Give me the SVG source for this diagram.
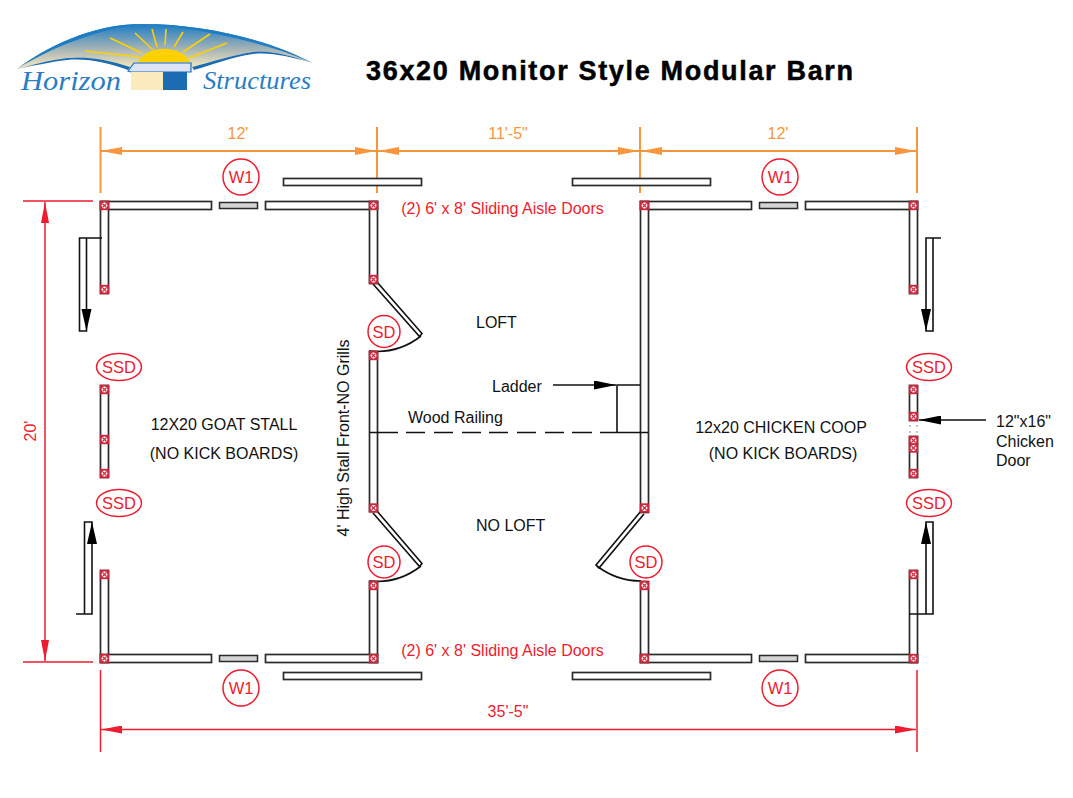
<svg xmlns="http://www.w3.org/2000/svg" width="1073" height="798" viewBox="0 0 1073 798">
<style>
text{font-family:"Liberation Sans",Arial,sans-serif}
.w{fill:#fff;stroke:#2a2a2a;stroke-width:1.7}
.win{fill:#d4d4d4;stroke:#2a2a2a;stroke-width:1.5}
.p{fill:#c8283c}
.l{fill:none;stroke:#111;stroke-width:1.6}
.or{stroke:#f7963c;stroke-width:2;fill:none}
.rd{stroke:#ee1c2e;stroke-width:1.5;fill:none}
.tag{fill:#fff;stroke:#ee1c2e;stroke-width:1.5}
.tt{fill:#ee1c2e;font-size:16.5px;text-anchor:middle}
.k{fill:#111;font-size:16px}
.k2{fill:#111;font-size:16px;text-anchor:middle}
.rt{fill:#ee1c2e;font-size:16px;text-anchor:middle}
.ot{fill:#f7963c;font-size:16px;text-anchor:middle}
.ray{stroke:#fdd000;stroke-width:1.6}
.script{font-family:"Liberation Serif",serif;font-style:italic;fill:#2a7cc4}
</style>
<defs>
<g id="post"><rect class="p" x="-4.700" y="-4.700" width="9.400" height="9.400"/><circle cx="0" cy="0" r="2.900" fill="#fff"/><path d="M-2-2L2 2M-2 2L2-2" stroke="#c8283c" stroke-width="1.100"/></g>
<linearGradient id="sky" x1="0" y1="0" x2="0" y2="1"><stop offset="0" stop-color="#1c7cc4"/><stop offset="0.55" stop-color="#a3b3b6"/><stop offset="1" stop-color="#fbeaba"/></linearGradient>
<marker id="oa" markerWidth="21" markerHeight="8" refX="21" refY="4" orient="auto-start-reverse" markerUnits="userSpaceOnUse"><path d="M0 0L21 4L0 8Z" fill="#f7963c"/></marker>
<marker id="ra" markerWidth="21" markerHeight="8" refX="21" refY="4" orient="auto-start-reverse" markerUnits="userSpaceOnUse"><path d="M0 0L21 4L0 8Z" fill="#ee1c2e"/></marker>
<marker id="ka" markerWidth="22" markerHeight="9" refX="22" refY="4.500" orient="auto" markerUnits="userSpaceOnUse"><path d="M0 0L22 4.500L0 9Z" fill="#000"/></marker>
</defs>
<rect width="1073" height="798" fill="#fff"/>
<g id="logo">
<path d="M17 69C45 48 90 24 143 24C200 24 265 38 313 63C290 56 272 50 253 52C232 55 212 62 192 67H128C108 62 88 56 67 58C50 60 32 65 17 69Z" fill="url(#sky)"/>
<path d="M17 69C45 48 90 24 143 24C100 28 50 48 17 69Z" fill="#1c7cc4"/>
<path d="M143 24C200 24 265 38 313 63C265 42 200 28 143 24Z" fill="#1c7cc4"/>
<path d="M17 69C32 65 50 60 67 58C88 56 108 60 130 67L128 70C108 63 88 58 67 60C50 62 32 66 17 69Z" fill="#1c6cb4"/>
<path d="M313 63C290 56 272 50 253 52C232 55 212 62 192 67L194 70C212 65 232 57 253 54C272 52 290 57 313 63Z" fill="#1c6cb4"/>
<path d="M138 62A27 18 0 0 1 190 62Z" fill="#fdd000"/>
<path class="ray" d="M110 38L142 53M135 33L153 50M152 29L157 47M166 29L165 45M183 32L174 47M210 34L183 52M227 43L189 58M85 51L140 57"/>
<path d="M128 71L134 63H191V72H131Z" fill="#dbe3f4" stroke="#1c6cb4" stroke-width="1.200"/>
<rect x="131" y="72" width="33" height="18" fill="#fbeabc"/>
<rect x="163" y="72" width="24" height="18" fill="#1c6cb4"/>
<text class="script" x="21" y="90" font-size="28" textLength="100" lengthAdjust="spacingAndGlyphs">Horizon</text>
<text class="script" x="203" y="89" font-size="26" textLength="108" lengthAdjust="spacingAndGlyphs">Structures</text>
</g>
<text id="title" x="366" y="80" font-size="27" font-weight="bold" fill="#000" stroke="#000" stroke-width="0.500" textLength="487">36x20 Monitor Style Modular Barn</text>
<g id="connectors">
<path class="or" d="M100.500 127V193M377 127V193M640 127V193M917 127V193"/>
<path class="or" d="M101 151H376" marker-start="url(#oa)" marker-end="url(#oa)"/>
<path class="or" d="M378 151H639" marker-start="url(#oa)" marker-end="url(#oa)"/>
<path class="or" d="M641 151H916" marker-start="url(#oa)" marker-end="url(#oa)"/>
<path class="rd" d="M23 201H93M23 662H93M100.500 670V752M917 670V752"/>
<path class="rd" d="M45 202V661" marker-start="url(#ra)" marker-end="url(#ra)"/>
<path class="rd" d="M101 729.500H916" marker-start="url(#ra)" marker-end="url(#ra)"/>
<path class="l" d="M553 385H616" marker-end="url(#ka)"/>
<path class="l" d="M986 420H919" marker-end="url(#ka)"/>
</g>
<g id="walls">
<rect class="w" x="100.500" y="201.500" width="111" height="8"/>
<rect class="w" x="265.500" y="201.500" width="112" height="8"/>
<rect class="w" x="100.500" y="201.500" width="8" height="92"/>
<rect class="w" x="369.500" y="201.500" width="8" height="82"/>
<rect class="w" x="369.500" y="351.500" width="8" height="160"/>
<rect class="w" x="369.500" y="581.500" width="8" height="81"/>
<rect class="w" x="100.500" y="570.500" width="8" height="92"/>
<rect class="w" x="100.500" y="654.500" width="111" height="8"/>
<rect class="w" x="265.500" y="654.500" width="112" height="8"/>
<rect class="w" x="100.500" y="385.500" width="8" height="92"/>
<rect class="w" x="640.500" y="201.500" width="111" height="8"/>
<rect class="w" x="805.500" y="201.500" width="112" height="8"/>
<rect class="w" x="640.500" y="201.500" width="8" height="311"/>
<rect class="w" x="909.500" y="201.500" width="8" height="92"/>
<rect class="w" x="640.500" y="581.500" width="8" height="81"/>
<rect class="w" x="640.500" y="654.500" width="111" height="8"/>
<rect class="w" x="805.500" y="654.500" width="112" height="8"/>
<rect class="w" x="909.500" y="570.500" width="8" height="92"/>
<rect class="w" x="909.500" y="385.500" width="8" height="35"/>
<rect class="w" x="909.500" y="436.500" width="8" height="41"/>
<rect class="win" x="219.500" y="202.500" width="38" height="6"/>
<rect class="win" x="219.500" y="655.500" width="38" height="6"/>
<rect class="win" x="759.500" y="202.500" width="38" height="6"/>
<rect class="win" x="759.500" y="655.500" width="38" height="6"/>
<rect class="w" x="283.500" y="178.500" width="138" height="7"/>
<rect class="w" x="572.500" y="178.500" width="138" height="7"/>
<rect class="w" x="283.500" y="672.500" width="138" height="7"/>
<rect class="w" x="572.500" y="672.500" width="138" height="7"/>
<path d="M910 425v2M917 425v2M910 431v2M917 431v2" stroke="#888" stroke-width="1"/>
</g>
<g id="sliding-doors">
<path class="l" d="M102 238H79.500V331H86.500V238"/><path d="M81.500 309H91.500L86.500 331Z"/>
<path class="l" d="M76 614H92V522H84.500V614"/><path d="M87 544H97L92 522Z"/>
<path class="l" d="M941 238H926V331H933V238"/><path d="M921 309H931L926 331Z"/>
<path class="l" d="M909 614H933V522H926V614"/><path d="M921 544H931L926 522Z"/>
</g>
<g id="swing-doors">
<path class="l" d="M373 284L419.500 336.500L422 333.500L377 282"/>
<path class="l" d="M421 336A72 72 0 0 1 369 351"/>
<path class="l" d="M373 513L419.500 566.500L422 563.500L377 511"/>
<path class="l" d="M421 566A72 72 0 0 1 369 581"/>
<path class="l" d="M641 511L596 565L599 568L644 514"/>
<path class="l" d="M597 566A72 72 0 0 0 641 581"/>
</g>
<g id="ladder">
<path class="l" d="M617 432V385H640"/>
</g>
<g id="railing">
<path class="l" stroke-width="1.800" d="M370 432.500H398M406 432.500H425M434 432.500H453M462 432.500H481M489 432.500H508M517 432.500H536M545 432.500H564M572 432.500H592M600 432.500H648"/>
</g>
<g id="posts">
<use href="#post" x="104.500" y="205.500"/><use href="#post" x="373.500" y="205.500"/><use href="#post" x="104.500" y="289.500"/><use href="#post" x="373.500" y="279.500"/><use href="#post" x="373.500" y="355.500"/><use href="#post" x="373.500" y="508"/><use href="#post" x="373.500" y="585.500"/><use href="#post" x="373.500" y="658.500"/><use href="#post" x="104.500" y="658.500"/><use href="#post" x="104.500" y="574.500"/><use href="#post" x="104.500" y="389.500"/><use href="#post" x="104.500" y="439.500"/><use href="#post" x="104.500" y="473.500"/>
<use href="#post" x="644.500" y="205.500"/><use href="#post" x="913.500" y="205.500"/><use href="#post" x="913.500" y="289.500"/><use href="#post" x="644.500" y="508"/><use href="#post" x="644.500" y="585.500"/><use href="#post" x="644.500" y="658.500"/><use href="#post" x="913.500" y="658.500"/><use href="#post" x="913.500" y="574.500"/>
<use href="#post" x="913.500" y="389.500"/><use href="#post" x="913.500" y="416.500"/><use href="#post" x="913.500" y="440.500"/><use href="#post" x="913.500" y="448"/><use href="#post" x="913.500" y="473.500"/>
</g>
<g id="tags">
<g id="w1a"><circle class="tag" cx="241" cy="177" r="18"/><text class="tt" x="241" y="183">W1</text></g>
<g id="w1b"><circle class="tag" cx="780" cy="177" r="18"/><text class="tt" x="780" y="183">W1</text></g>
<g id="w1c"><circle class="tag" cx="241" cy="688" r="18"/><text class="tt" x="241" y="694">W1</text></g>
<g id="w1d"><circle class="tag" cx="780" cy="688" r="18"/><text class="tt" x="780" y="694">W1</text></g>
<g id="sd1"><circle class="tag" cx="384" cy="331.500" r="16"/><text class="tt" x="384" y="337.500">SD</text></g>
<g id="sd2"><circle class="tag" cx="384" cy="562" r="16"/><text class="tt" x="384" y="568">SD</text></g>
<g id="sd3"><circle class="tag" cx="646" cy="562" r="16"/><text class="tt" x="646" y="568">SD</text></g>
<g id="ssd1"><ellipse class="tag" cx="119" cy="367" rx="22.500" ry="13.500"/><text class="tt" x="119" y="373">SSD</text></g>
<g id="ssd2"><ellipse class="tag" cx="119" cy="503" rx="22.500" ry="13.500"/><text class="tt" x="119" y="509">SSD</text></g>
<g id="ssd3"><ellipse class="tag" cx="929" cy="367" rx="22.500" ry="13.500"/><text class="tt" x="929" y="373">SSD</text></g>
<g id="ssd4"><ellipse class="tag" cx="929" cy="503" rx="22.500" ry="13.500"/><text class="tt" x="929" y="509">SSD</text></g>
</g>
<g id="labels">
<text class="ot" x="238" y="139">12'</text>
<text class="ot" x="508" y="139">11'-5"</text>
<text class="ot" x="778" y="139">12'</text>
<text class="rt" transform="translate(36 431) rotate(-90)">20'</text>
<text class="rt" x="508" y="717">35'-5"</text>
<text class="rt" x="502.500" y="214">(2) 6' x 8' Sliding Aisle Doors</text>
<text class="rt" x="502.500" y="656">(2) 6' x 8' Sliding Aisle Doors</text>
<text class="k2" x="224" y="430">12X20 GOAT STALL</text>
<text class="k2" x="224" y="459">(NO KICK BOARDS)</text>
<text class="k2" x="781" y="433">12x20 CHICKEN COOP</text>
<text class="k2" x="783" y="459">(NO KICK BOARDS)</text>
<text class="k" x="476" y="328">LOFT</text>
<text class="k" x="476" y="531">NO LOFT</text>
<text class="k" x="492" y="392">Ladder</text>
<text class="k" x="408" y="423">Wood Railing</text>
<text class="k2" transform="translate(349 438) rotate(-90)">4' High Stall Front-NO Grills</text>
<text class="k" x="996" y="427">12"x16"</text>
<text class="k" x="996" y="447">Chicken</text>
<text class="k" x="996" y="466">Door</text>
</g>
</svg>
